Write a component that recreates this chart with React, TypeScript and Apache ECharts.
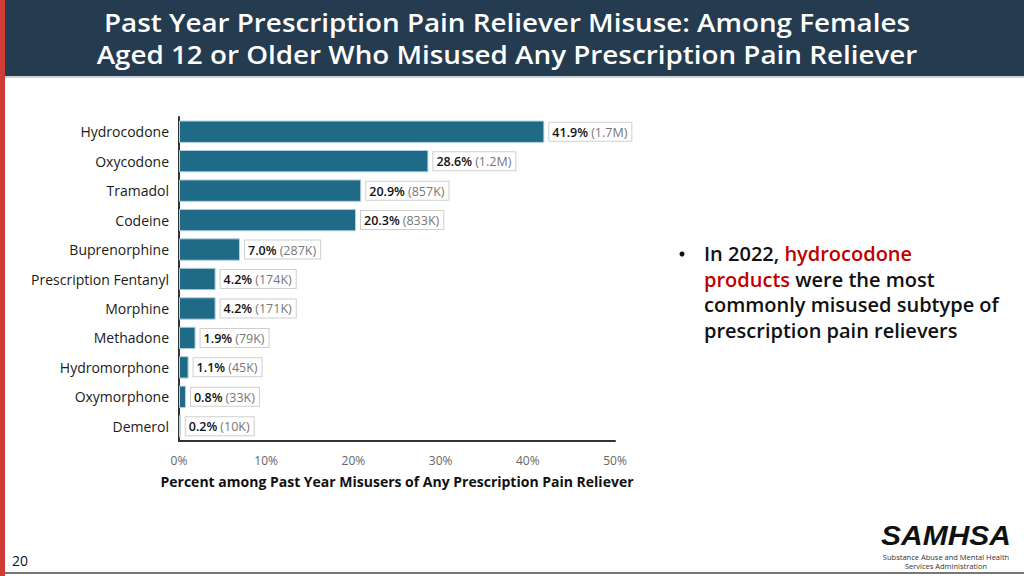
import React, { useEffect, useRef } from "react";
import * as echarts from "echarts";

const categories = [
  "Hydrocodone",
  "Oxycodone",
  "Tramadol",
  "Codeine",
  "Buprenorphine",
  "Prescription Fentanyl",
  "Morphine",
  "Methadone",
  "Hydromorphone",
  "Oxymorphone",
  "Demerol",
];
const percents = [41.9, 28.6, 20.9, 20.3, 7.0, 4.2, 4.2, 1.9, 1.1, 0.8, 0.2];
const counts = ["1.7M", "1.2M", "857K", "833K", "287K", "174K", "171K", "79K", "45K", "33K", "10K"];
const xTicks = { min: 0, max: 50, interval: 10 };

const titleLines = [
  "Past Year Prescription Pain Reliever Misuse: Among Females",
  "Aged 12 or Older Who Misused Any Prescription Pain Reliever",
];
const axisTitle = "Percent among Past Year Misusers of Any Prescription Pain Reliever";

const FONT = "'Open Sans', 'Noto Sans', sans-serif";

export default function App() {
  const ref = useRef<HTMLDivElement>(null);
  useEffect(() => {
    if (!ref.current) return;
    const chart = echarts.init(ref.current, null, { renderer: "svg" });
    chart.setOption({
      animation: false,
      backgroundColor: "#ffffff",
      textStyle: { fontFamily: FONT },
      grid: { left: 179, top: 117, width: 436, height: 324, containLabel: false },
      xAxis: {
        type: "value",
        min: xTicks.min,
        max: xTicks.max,
        interval: xTicks.interval,
        axisLine: { show: true, lineStyle: { color: "#333", width: 2 } },
        axisTick: { show: false },
        splitLine: { show: false },
        axisLabel: { formatter: "{value}%", color: "#666", fontSize: 12, margin: 13, fontFamily: FONT },
        name: axisTitle,
        nameLocation: "middle",
        nameGap: 33,
        nameTextStyle: { fontSize: 14, fontWeight: "bold", color: "#111", fontFamily: FONT },
      },
      yAxis: {
        type: "category",
        data: categories,
        inverse: true,
        axisLine: { show: true, lineStyle: { color: "#333", width: 2 } },
        axisTick: { show: false },
        axisLabel: { color: "#1a1a1a", fontSize: 14, margin: 10, fontFamily: FONT },
      },
      series: [
        {
          type: "bar",
          data: percents,
          barWidth: "76%",
          itemStyle: { color: "#1f6a86", borderColor: "#b3d2de", borderWidth: 1 },
          label: {
            show: true,
            position: "right",
            distance: 5,
            formatter: (p: any) => `{b|${percents[p.dataIndex].toFixed(1)}%} {g|(${counts[p.dataIndex]})}`,
            backgroundColor: "#fff",
            borderColor: "#cfcfcf",
            borderWidth: 1,
            padding: [3, 4, 2, 3],
            rich: {
              b: { fontSize: 12.5, fontWeight: 600, color: "#111", fontFamily: FONT },
              g: { fontSize: 12.5, color: "#777", fontFamily: FONT },
            },
          },
        },
      ],
      graphic: [
        { type: "rect", shape: { x: 0, y: 0, width: 1024, height: 76 }, style: { fill: "#243b50" }, z: 1 },
        { type: "rect", shape: { x: 0, y: 76, width: 1024, height: 2 }, style: { fill: "#c9d3dc" }, z: 1 },
        { type: "rect", shape: { x: 0, y: 0, width: 5, height: 576 }, style: { fill: "#d03b35" }, z: 2 },
        {
          type: "text",
          x: 507,
          y: 21.5,
          scaleX: 1.07,
          style: { text: titleLines[0], fill: "#fff", font: `600 26px ${FONT}`, align: "center", verticalAlign: "middle" },
          z: 3,
        },
        {
          type: "text",
          x: 507,
          y: 53.5,
          scaleX: 1.07,
          style: { text: titleLines[1], fill: "#fff", font: `600 26px ${FONT}`, align: "center", verticalAlign: "middle" },
          z: 3,
        },
        {
          type: "circle",
          shape: { cx: 682, cy: 254, r: 2.5 },
          style: { fill: "#111" },
        },
        {
          type: "text",
          x: 704,
          y: 241,
          style: {
            text: "In 2022, {r|hydrocodone}\n{r|products} were the most\ncommonly misused subtype of\nprescription pain relievers",
            fill: "#111",
            font: `600 20px ${FONT}`,
            lineHeight: 25.5,
            align: "left",
            verticalAlign: "top",
            rich: {
              r: { fill: "#c00000", font: `600 20px ${FONT}`, lineHeight: 25.5 },
            },
          },
        },
        {
          type: "text",
          x: 12,
          y: 560,
          style: { text: "20", fill: "#111", font: `14px ${FONT}`, verticalAlign: "middle" },
        },
        {
          type: "text",
          x: 946,
          y: 535.5,
          scaleX: 1.07,
          style: {
            text: "SAMHSA",
            fill: "#111",
            font: `italic 900 28px 'Liberation Sans', 'DejaVu Sans', sans-serif`,
            align: "center",
            verticalAlign: "middle",
          },
        },
        {
          type: "text",
          x: 946,
          y: 557,
          style: {
            text: "Substance Abuse and Mental Health",
            fill: "#333",
            font: `7.5px ${FONT}`,
            align: "center",
            verticalAlign: "middle",
          },
        },
        {
          type: "text",
          x: 946,
          y: 566,
          style: {
            text: "Services Administration",
            fill: "#333",
            font: `7.5px ${FONT}`,
            align: "center",
            verticalAlign: "middle",
          },
        },
        { type: "rect", shape: { x: 0, y: 572, width: 1024, height: 2 }, style: { fill: "#777" } },
      ],
    });
    return () => chart.dispose();
  }, []);
  return <div ref={ref} style={{ position: "fixed", left: 0, top: 0, width: 1024, height: 576 }} />;
}
